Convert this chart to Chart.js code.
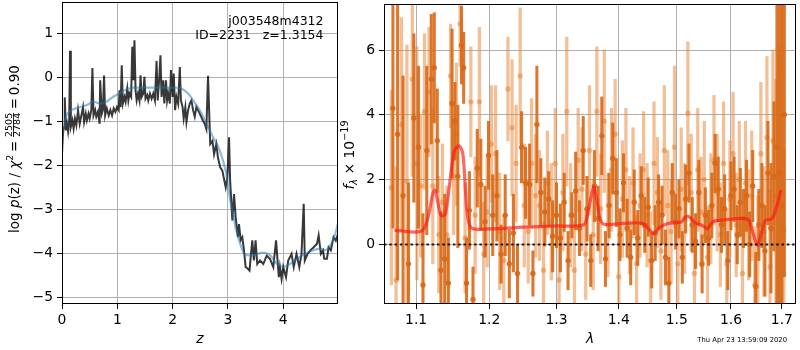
<!DOCTYPE html>
<html>
<head>
<meta charset="utf-8">
<script src="https://cdn.jsdelivr.net/npm/chart.js@4.4.1/dist/chart.umd.min.js"></script>
<style>
body{margin:0;background:#fff;width:800px;height:350px;position:relative;overflow:hidden;}
#pz{position:absolute;left:0;top:0;width:345px;height:350px;}
#spec{position:absolute;left:340px;top:0;width:460px;height:350px;}
</style>
</head>
<body>
<canvas id="pz" width="345" height="350"></canvas>
<canvas id="spec" width="460" height="350"></canvas>
<script>
// ---- left panel: log p(z) ----
const zGrid = [0.00,0.02,0.04,0.05,0.07,0.09,0.11,0.13,0.145,0.16,0.19,0.21,0.235,0.26,0.29,0.32,0.35,0.38,0.40,0.43,
  0.45,0.48,0.50,0.53,0.55,0.57,0.60,0.62,0.65,0.68,0.69,0.72,0.74,0.76,0.78,0.81,0.845,0.875,0.905,0.935,
  0.965,0.995,1.025,1.04,1.06,1.08,1.10,1.13,1.15,1.18,1.20,1.22,1.25,1.27,1.29,1.31,1.33,1.35,1.375,1.40,
  1.42,1.44,1.47,1.49,1.51,1.54,1.56,1.59,1.62,1.65,1.68,1.71,1.73,1.76,1.78,1.80,1.83,1.85,1.88,1.90,
  1.92,1.95,1.97,2.00,2.02,2.045,2.07,2.10,2.13,2.15,2.18,2.20,2.23,2.25,2.28,2.31,2.34,2.37,2.40,2.43,
  2.48,2.52,2.55,2.58,2.61,2.64,2.68,2.72,2.75,2.79,2.82,2.86,2.90,2.96,2.99,3.02,3.04,3.08,3.11,3.14,
  3.18,3.20,3.23,3.26,3.29,3.32,3.36,3.39,3.44,3.47,3.50,3.53,3.58,3.64,3.70,3.76,3.82,3.87,3.92,3.94,
  3.97,4.00,4.05,4.09,4.15,4.19,4.24,4.29,4.33,4.37,4.39,4.44,4.49,4.55,4.61,4.64,4.68,4.72,4.74,4.79,
  4.82,4.86,4.91,4.95,4.99];
const logPz = [-1.73,-1.20,-1.12,-0.45,-1.20,-1.05,-1.23,-1.01,0.61,-1.12,-0.97,-1.16,-0.93,-1.08,-0.74,-1.05,-0.86,-0.67,-1.01,-0.82,
  -0.97,-0.82,-0.93,-0.74,0.22,-0.86,-0.74,-0.89,-0.78,-1.05,-0.06,-0.82,-0.74,0.05,-0.86,-0.70,-0.86,-0.74,-0.86,-0.70,
  -0.78,-0.67,-0.74,-0.29,-0.67,0.28,-0.59,-0.44,-0.55,-0.25,-0.52,-0.36,-0.44,0.70,-0.06,0.85,-0.29,-0.52,-0.36,-0.52,
  0.05,-0.44,-0.36,0.02,-0.48,-0.40,-0.52,-0.36,-0.48,-0.36,-0.52,0.38,-0.52,0.02,0.51,-0.44,-0.06,-0.59,-0.06,-0.52,
  -0.36,-0.59,0.17,-0.44,0.09,-0.74,-0.44,-0.59,0.24,-0.52,-0.67,-0.93,-0.67,-1.01,-0.74,-0.59,-0.52,-0.74,-0.89,-0.67,
  -0.79,-0.90,-0.98,-1.05,-1.17,0.04,-1.51,-1.44,-1.74,-1.51,-1.82,-2.04,-2.12,-2.50,-2.27,-1.36,-2.35,-3.25,-2.65,-3.18,
  -3.63,-3.33,-3.70,-3.63,-3.93,-4.31,-4.35,-4.39,-3.70,-4.16,-3.70,-4.24,-4.16,-4.24,-4.05,-4.12,-4.31,-3.70,-4.54,-4.31,
  -4.58,-4.31,-4.54,-4.16,-4.01,-4.31,-4.01,-4.31,-4.01,-2.87,-4.16,-4.01,-3.93,-3.86,-3.78,-3.59,-4.01,-3.93,-4.12,-4.12,
  -3.86,-3.93,-3.63,-3.71,-3.56];
const zSmooth = [0.02,0.08,0.17,0.32,0.44,0.56,0.68,0.80,0.92,1.04,1.16,1.29,1.53,1.77,2.01,2.16,2.28,2.37,2.49,2.61,
  2.73,2.85,2.97,3.03,3.09,3.15,3.24,3.31,3.46,3.64,3.76,3.88,4.00,4.12,4.30,4.48,4.66,4.78,4.90,4.99];
const logPzSmooth = [-1.27,-0.86,-0.74,-0.67,-0.63,-0.55,-0.59,-0.55,-0.44,-0.36,-0.27,-0.23,-0.23,-0.23,-0.23,-0.25,-0.36,-0.52,-0.74,-1.05,
  -1.35,-1.65,-2.18,-2.71,-3.09,-3.47,-3.85,-4.02,-4.04,-3.98,-4.04,-4.23,-4.30,-4.24,-4.08,-3.96,-3.89,-3.92,-3.70,-3.32];
const zTicks = [0, 1, 2, 3, 4];
const pzTicks = [-5, -4, -3, -2, -1, 0, 1];

// ---- right panel: spectrum ----
const lamDark = [1.070,1.076,1.083,1.090,1.097,1.103,1.109,1.114,1.120,1.124,1.128,1.133,1.138,1.143,1.148,1.152,1.156,1.161,1.164,1.168,
  1.172,1.177,1.183,1.188,1.194,1.199,1.205,1.211,1.217,1.223,1.229,1.235,1.241,1.247,1.253,1.259,1.264,1.270,1.276,1.282,
  1.288,1.294,1.300,1.306,1.312,1.318,1.324,1.330,1.336,1.342,1.348,1.354,1.360,1.366,1.372,1.378,1.384,1.390,1.396,1.402,
  1.408,1.414,1.420,1.426,1.432,1.438,1.444,1.450,1.456,1.462,1.468,1.474,1.480,1.486,1.492,1.498,1.504,1.510,1.516,1.522,
  1.528,1.534,1.540,1.546,1.552,1.558,1.564,1.570,1.576,1.582,1.588,1.594,1.600,1.606,1.612,1.618,1.624,1.630,1.636,1.642,
  1.648,1.654,1.660,1.666,1.672,1.678,1.684,1.690,1.695,1.700,1.705];
const fluxDark = [4.2,3.4,1.5,-0.6,3.9,3.0,-1.25,2.9,5.1,5.45,3.2,-0.8,-0.45,-1.2,4.35,3.8,2.1,6.15,5.45,-1.2,
  1.05,-1.7,2.35,1.85,0.7,2.75,0.9,1.5,-0.3,0.9,-0.6,0.35,-0.9,3.0,1.9,1.85,-0.9,3.7,1.6,1.0,
  1.4,0.25,0.9,0.2,1.3,-0.5,0.9,1.65,0.5,2.9,1.1,-0.5,1.8,0.8,3.35,-0.45,1.2,2.65,1.6,0.3,
  1.9,0.5,-0.4,1.3,0.2,1.5,0.6,1.15,-0.5,0.35,1.3,0.9,-0.4,-1.2,1.6,0.7,1.1,-0.4,1.4,2.2,
  0.6,0.1,1.6,-0.6,0.9,0.2,1.2,2.5,1.7,0.6,1.1,-0.5,1.5,1.7,0.3,1.3,0.8,1.5,0.0,1.8,
  -1.3,0.6,1.2,-0.2,2.2,0.5,2.1,3.0,2.2,1.2,4.0];
const errDark = [3.7,4.5,3.7,2.5,2.6,2.5,2.2,2.6,2.0,1.7,1.6,1.8,2.0,1.4,2.3,1.2,2.2,1.2,1.1,1.4,
  1.2,1.0,1.2,1.4,1.1,1.05,1.25,1.4,0.9,1.25,1.05,1.2,0.9,1.1,1.1,1.25,0.7,1.8,1.05,1.05,
  0.85,1.1,1.0,1.05,0.9,0.9,0.7,1.2,0.85,1.05,1.0,0.8,1.1,1.0,1.2,0.85,1.0,1.1,1.05,0.8,
  0.9,0.9,0.85,1.0,0.85,0.9,0.85,0.9,0.85,0.85,0.85,0.9,0.85,0.8,0.9,0.85,0.9,0.8,1.05,0.9,
  0.85,0.85,1.0,0.9,0.85,0.85,1.0,0.9,1.0,0.85,1.05,0.9,1.05,1.0,0.9,1.05,0.9,1.1,1.0,1.1,
  1.05,1.1,1.3,1.4,1.6,2.0,2.3,6.0,6.5,7.0,5.0];
const lamLight = [1.068,1.074,1.081,1.088,1.095,1.101,1.106,1.111,1.117,1.122,1.130,1.135,1.141,1.146,1.150,1.154,1.159,1.166,1.174,1.180,
  1.186,1.192,1.197,1.203,1.209,1.215,1.221,1.227,1.233,1.239,1.245,1.251,1.257,1.262,1.268,1.274,1.280,1.286,1.292,1.298,
  1.304,1.310,1.316,1.322,1.328,1.334,1.340,1.346,1.352,1.358,1.364,1.370,1.376,1.382,1.388,1.394,1.400,1.406,1.412,1.418,
  1.424,1.430,1.436,1.442,1.448,1.454,1.460,1.466,1.472,1.478,1.484,1.490,1.496,1.502,1.508,1.514,1.520,1.526,1.532,1.538,
  1.544,1.550,1.556,1.562,1.568,1.574,1.580,1.586,1.592,1.598,1.604,1.610,1.616,1.622,1.628,1.634,1.640,1.646,1.652,1.658,
  1.664,1.670,1.676,1.682,1.688,1.694,1.704];
const fluxLight = [1.75,-1.1,3.7,1.95,5.1,2.5,1.8,4.1,4.7,1.8,0.3,1.3,0.3,5.2,2.1,3.4,6.8,0.2,4.4,0.9,
  4.4,-0.3,1.0,3.1,2.8,0.4,-0.5,4.8,3.6,2.5,5.2,1.2,0.4,2.5,1.5,1.2,-0.8,1.9,0.7,2.5,
  -1.1,1.6,4.1,0.9,-0.8,2.6,1.7,-0.3,2.9,0.3,4.1,1.1,3.8,0.6,2.3,3.4,-1.0,1.4,2.3,0.6,
  1.9,-0.6,1.2,2.3,0.9,-0.5,2.5,1.6,-0.2,2.9,1.2,0.4,3.0,-0.6,1.7,0.8,4.05,1.6,-0.9,2.3,
  1.0,2.0,-0.4,1.1,2.6,1.6,0.3,2.5,-0.6,1.4,2.8,0.6,2.0,-0.9,1.9,0.6,1.5,-1.25,-0.3,2.8,
  0.4,3.3,-0.7,3.2,1.5,0.1,0.43];
const errLight = [3.0,3.5,3.3,4.2,3.0,3.6,2.2,2.4,2.0,2.4,1.8,1.8,1.5,1.6,1.8,2.2,1.3,1.7,1.7,1.8,
  2.3,1.6,1.7,1.8,2.1,1.8,1.4,1.6,2.1,1.8,2.1,1.9,1.6,2.0,1.9,1.7,1.5,1.6,1.8,1.7,
  1.6,1.8,2.3,1.6,1.5,1.6,1.9,1.4,2.0,1.7,2.0,1.7,2.2,1.6,1.9,1.7,1.6,1.8,1.9,1.5,
  1.7,1.5,1.6,1.8,1.6,1.5,1.9,1.7,1.5,2.0,1.7,1.6,2.5,1.6,1.9,1.7,2.2,1.8,1.5,1.9,
  1.7,1.8,1.6,1.7,2.0,1.8,1.6,1.9,1.7,1.8,1.9,1.6,1.8,1.6,1.9,1.7,2.0,1.8,1.8,2.2,
  2.0,2.5,2.4,2.8,3.6,6.0,2.5];
const lamModel = [1.072,1.109,1.124,1.133,1.139,1.151,1.158,1.163,1.169,1.175,1.200,1.250,1.300,1.343,1.350,1.359,1.364,1.373,1.405,1.440,
  1.453,1.460,1.470,1.485,1.508,1.517,1.523,1.535,1.547,1.556,1.565,1.578,1.632,1.641,1.651,1.657,1.667,1.680,1.690,1.698];
const fluxModel = [0.43,0.45,1.68,0.89,0.94,2.88,3.04,2.78,0.94,0.50,0.48,0.53,0.57,0.61,1.04,1.78,1.35,0.65,0.65,0.65,
  0.43,0.33,0.53,0.65,0.69,0.86,0.84,0.65,0.58,0.48,0.69,0.74,0.78,0.43,-0.03,0.22,0.74,0.79,1.20,1.68];
const lamRange = [1.0587, 1.7288];
const lamTicks = [1.1, 1.2, 1.3, 1.4, 1.5, 1.6, 1.7];
const fluxTicks = [0, 2, 4, 6];

Chart.defaults.font.family = "'DejaVu Sans', sans-serif";
Chart.defaults.font.size = 13.9;
Chart.defaults.color = '#000';
Chart.defaults.animation = false;

const minus = v => (v < 0 ? '\u2212' : '') + Math.abs(v);
const setTicks = vals => s => { s.ticks = vals.map(v => ({value: v})); };
const fixW = w => s => { s.width = w; s.paddingTop = s.paddingBottom = s.paddingLeft = s.paddingRight = 0; };
const fixH = h => s => { s.height = h; s.paddingTop = s.paddingBottom = s.paddingLeft = s.paddingRight = 0; };
const gridOpts = {color: '#b0b0b0', lineWidth: 1, tickColor: '#000', tickLength: 5, tickWidth: 1};

function drawRun(ctx, pieces, cx, cy) { // rotated rich text, centred on cx,cy
  let total = 0;
  pieces.forEach(p => {
    if (p.num) {
      ctx.font = p.size + "px 'DejaVu Sans'";
      p.w = Math.max(ctx.measureText(p.num).width, ctx.measureText(p.den).width) + 2;
    } else {
      ctx.font = (p.italic ? 'italic ' : '') + p.size + "px 'DejaVu Sans'";
      p.w = ctx.measureText(p.t).width;
    }
    total += p.w;
  });
  ctx.save();
  ctx.translate(cx, cy);
  ctx.rotate(-Math.PI / 2);
  ctx.fillStyle = '#000';
  ctx.textBaseline = 'alphabetic';
  let u = -total / 2;
  pieces.forEach(p => {
    if (p.num) {
      ctx.font = p.size + "px 'DejaVu Sans'";
      ctx.textAlign = 'center';
      ctx.fillText(p.num, u + p.w / 2, -6.5);
      ctx.fillText(p.den, u + p.w / 2, 1.8);
      ctx.fillRect(u + 1, -5.3, p.w - 2, 0.8);
      ctx.textAlign = 'left';
    } else {
      ctx.font = (p.italic ? 'italic ' : '') + p.size + "px 'DejaVu Sans'";
      ctx.textAlign = 'left';
      ctx.fillText(p.t, u, p.dy || 0);
    }
    u += p.w;
  });
  ctx.restore();
}

const frame = {
  id: 'frame',
  afterDraw(chart) {
    const a = chart.chartArea, ctx = chart.ctx;
    ctx.save();
    ctx.strokeStyle = '#000';
    ctx.lineWidth = 1;
    ctx.strokeRect(Math.round(a.left) + 0.5, Math.round(a.top) + 0.5, Math.round(a.right - a.left) - 1, Math.round(a.bottom - a.top) - 1);
    ctx.restore();
  }
};

const pzText = {
  id: 'pzText',
  afterDraw(chart) {
    const ctx = chart.ctx;
    ctx.save();
    ctx.fillStyle = '#000';
    ctx.font = "12.5px 'DejaVu Sans'";
    ctx.textAlign = 'right';
    ctx.fillText('j003548m4312', 323.5, 25);
    ctx.fillText('ID=2231   z=1.3154', 323.5, 38.5);
    ctx.restore();
    drawRun(ctx, [
      {t: 'log ', size: 13.5},
      {t: 'p', size: 13.5, italic: true},
      {t: '(z) / ', size: 13.5},
      {t: '\u03c7', size: 13.5, italic: true},
      {t: '2', size: 9.5, dy: -5.5},
      {t: '\u2009=\u2009', size: 13.5},
      {num: '2505', den: '2784', size: 9.5},
      {t: '\u2009=\u20090.90', size: 13.5}
    ], 18.5, 149);
  }
};

const specText = {
  id: 'specText',
  afterDraw(chart) {
    const ctx = chart.ctx;
    drawRun(ctx, [
      {t: 'f', size: 13.9, italic: true},
      {t: '\u03bb', size: 9.7, italic: true, dy: 3},
      {t: ' \u00d7 10', size: 13.9},
      {t: '\u221219', size: 9.7, dy: -6}
    ], 13.5, 155);
    ctx.save();
    ctx.fillStyle = '#000';
    ctx.font = "6.8px 'DejaVu Sans'";
    ctx.textAlign = 'right';
    ctx.fillText('Thu Apr 23 13:59:09 2020', 447, 342);
    ctx.restore();
  }
};

new Chart(document.getElementById('pz'), {
  type: 'line',
  data: {
    datasets: [
      {
        data: zGrid.map((z, i) => ({x: z, y: logPz[i]})),
        borderColor: 'rgba(0,0,0,0.78)', borderWidth: 2, pointRadius: 0, tension: 0, order: 2
      },
      {
        data: zSmooth.map((z, i) => ({x: z, y: logPzSmooth[i]})),
        borderColor: 'rgba(31,119,180,0.5)', borderWidth: 2.2, pointRadius: 0, tension: 0.4, order: 1
      }
    ]
  },
  options: {
    responsive: false,
    devicePixelRatio: 1,
    layout: {padding: {left: 0, right: 7, top: 2, bottom: 0}},
    plugins: {legend: {display: false}, tooltip: {enabled: false}},
    scales: {
      x: {
        type: 'linear', min: 0, max: 4.99, bounds: 'data',
        afterBuildTicks: setTicks(zTicks), afterFit: fixH(46),
        grid: gridOpts, border: {display: false},
        ticks: {padding: 3, maxRotation: 0, callback: minus},
        title: {display: true, text: 'z', font: {style: 'italic', size: 13.9}, padding: {top: 0, bottom: 2}}
      },
      y: {
        type: 'linear', min: -5.15, max: 1.72, bounds: 'data',
        afterBuildTicks: setTicks(pzTicks), afterFit: fixW(62),
        grid: gridOpts, border: {display: false},
        ticks: {padding: 4, callback: minus}
      }
    }
  },
  plugins: [frame, pzText]
});

const errBars = (lam, flux, err) => lam.map((l, i) => ({x: l, y: [flux[i] - err[i], flux[i] + err[i]]}));
const pts = (lam, flux) => lam.map((l, i) => ({x: l, y: flux[i]}));

new Chart(document.getElementById('spec'), {
  type: 'bar',
  data: {
    datasets: [
      {type: 'bar', data: errBars(lamLight, fluxLight, errLight), backgroundColor: 'rgba(232,128,45,0.5)',
       barThickness: 2.6, grouped: false, borderWidth: 0, order: 6},
      {type: 'scatter', data: pts(lamLight, fluxLight), pointRadius: 2.7, pointBorderWidth: 0,
       pointBackgroundColor: 'rgba(232,128,45,0.5)', order: 5},
      {type: 'bar', data: errBars(lamDark, fluxDark, errDark), backgroundColor: 'rgba(216,104,22,0.9)',
       barThickness: 2.4, grouped: false, borderWidth: 0, order: 4},
      {type: 'scatter', data: pts(lamDark, fluxDark), pointRadius: 2.7, pointBorderWidth: 0,
       pointBackgroundColor: 'rgba(216,104,22,0.9)', order: 3},
      {type: 'line', data: pts(lamModel, fluxModel), borderColor: 'rgba(255,20,20,0.65)', borderWidth: 3.2,
       pointRadius: 0, tension: 0.3, order: 2},
      {type: 'line', data: pts(lamRange, [0, 0]), borderColor: 'rgba(0,0,0,0.85)', borderWidth: 2,
       borderDash: [2.5, 2.8], pointRadius: 0, order: 1}
    ]
  },
  options: {
    responsive: false,
    devicePixelRatio: 1,
    layout: {padding: {left: 0, right: 1, top: 2, bottom: 0}},
    plugins: {legend: {display: false}, tooltip: {enabled: false}},
    scales: {
      x: {
        type: 'logarithmic', min: lamRange[0], max: lamRange[1], bounds: 'data', offset: false,
        afterBuildTicks: setTicks(lamTicks), afterFit: fixH(46),
        grid: Object.assign({offset: false}, gridOpts), border: {display: false},
        ticks: {padding: 3, maxRotation: 0, autoSkip: false, callback: v => Number(v).toFixed(1)},
        title: {display: true, text: '\u03bb', font: {style: 'italic', size: 13.9}, padding: {top: 0, bottom: 2}}
      },
      y: {
        type: 'linear', min: -1.84, max: 7.42, bounds: 'data',
        afterBuildTicks: setTicks(fluxTicks), afterFit: fixW(44),
        grid: gridOpts, border: {display: false},
        ticks: {padding: 4, callback: minus}
      }
    }
  },
  plugins: [frame, specText]
});
</script>
</body>
</html>
